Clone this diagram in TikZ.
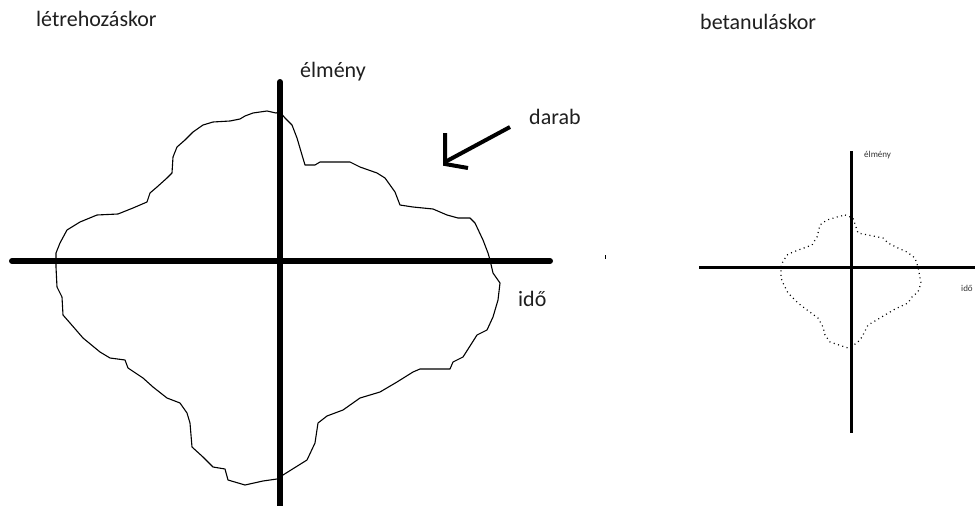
\documentclass[tikz,border=0pt]{standalone}
\usepackage{fontspec}
\setmainfont{Carlito}
\begin{document}
\begin{tikzpicture}[x=1pt,y=-1pt,
  lbl/.style={inner sep=0pt,anchor=base west,text=black!88,font=\fontsize{22}{24}\selectfont},
  tinylbl/.style={inner sep=0pt,anchor=base west,text=black!80,font=\fontsize{9}{10}\selectfont},
  bigaxis/.style={line width=6pt,line cap=round},
  smallaxis/.style={line width=3pt},
  blob/.style={line width=1.1pt,line join=round},
  dotblob/.style={line width=1.2pt,dash pattern=on 1pt off 3.5pt}]
\useasboundingbox (0,0) rectangle (980,506);
\fill[white] (0,0) rectangle (980,506);

% titles
\node[lbl] (t1) at (36,26) {létrehozáskor};
\node[lbl] (t2) at (700,29) {betanuláskor};

% left axes
\coordinate (hl) at (12,261);
\coordinate (hr) at (550,261);
\coordinate (vt) at (280,82);
\coordinate (vb) at (280,510);
\draw[bigaxis] (hl) -- (hr);
\draw[bigaxis,line cap=butt] (vb) -- (280,84);
\draw[bigaxis] (280,90) -- (vt);
\node[lbl] (elm) at (300,77) {élmény};
\node[lbl] (ido) at (518,306) {idő};
\node[lbl] (dar) at (529,124) {darab};

% arrow
\coordinate (a1) at (510,127);
\coordinate (a2) at (445,162);
\coordinate (a3) at (445,133);
\coordinate (a4) at (468,168);
\draw[line width=4pt,line join=miter] (a1) -- (a2);
\draw[line width=4pt,line join=miter] (a3) -- (445,164) -- (a4);

% stray mark
\draw[line width=1pt] (605,255) -- (605,259);

% big blob
\draw[blob] (280,112) -- (276,113) -- (267,111) -- (253,113) -- (245,116) -- (240,119) -- (230,121) -- (213,122) -- (203,125) -- (193,132) -- (185,140) -- (177,147) -- (173,157) -- (172,173) -- (167,178) -- (157,187) -- (150,193) -- (147,202) -- (133,208) -- (118,214) -- (97,215) -- (80,222) -- (67,230) -- (60,243) -- (56,253) -- (56,267) -- (57,287) -- (62,297) -- (63,315) -- (70,323) -- (83,338) -- (100,352) -- (110,358) -- (125,360) -- (128,368) -- (143,378) -- (153,387) -- (167,398) -- (180,403) -- (187,413) -- (190,423) -- (192,447) -- (203,457) -- (213,467) -- (225,469) -- (228,480) -- (245,485) -- (263,481) -- (277,479) -- (283,475) -- (307,460) -- (315,443) -- (318,423) -- (327,416) -- (343,410) -- (360,398) -- (380,392) -- (397,382) -- (413,372) -- (420,369) -- (450,369) -- (453,362) -- (463,357) -- (477,335) -- (487,330) -- (493,317) -- (498,300) -- (500,283) -- (493,273) -- (490,260) -- (488,253) -- (483,240) -- (475,223) -- (470,218) -- (458,218) -- (447,215) -- (433,209) -- (413,207) -- (400,205) -- (395,192) -- (385,178) -- (377,173) -- (360,167) -- (350,162) -- (320,162) -- (315,165) -- (305,165) -- (302,155) -- (297,138) -- (292,125) -- (285,118) -- cycle;

% right axes
\coordinate (shl) at (699,267);
\coordinate (shr) at (975,267);
\coordinate (svt) at (851,151);
\coordinate (svb) at (851,433);
\draw[smallaxis] (shl) -- (shr);
\draw[smallaxis] (svt) -- (svb);
\node[tinylbl] (selm) at (864,157) {élmény};
\node[tinylbl] (sido) at (961,291) {idő};

% small dotted blob
\draw[dotblob] (845,215) -- (853,218) -- (858,233) -- (883,238) -- (888,243) -- (898,248) -- (907,252) -- (915,258) -- (918,267) -- (921,283) -- (918,292) -- (912,297) -- (908,303) -- (895,309) -- (875,321) -- (868,325) -- (862,337) -- (857,343) -- (848,348) -- (830,342) -- (825,335) -- (823,327) -- (818,318) -- (803,307) -- (798,303) -- (788,293) -- (783,283) -- (781,278) -- (781,265) -- (787,255) -- (793,252) -- (812,245) -- (817,237) -- (820,225) -- (827,220) -- (837,217) -- cycle;
\end{tikzpicture}
\end{document}
